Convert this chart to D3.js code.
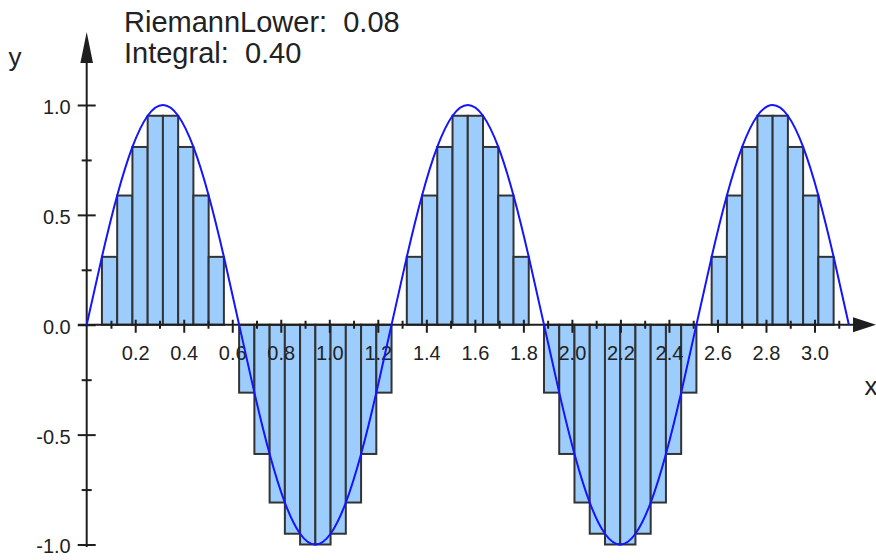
<!DOCTYPE html>
<html><head><meta charset="utf-8">
<script src="https://cdn.jsdelivr.net/npm/d3@7"></script>
<style>
body{margin:0;background:#fff}
svg{display:block}
text{font-family:"Liberation Sans",Arial,sans-serif}
</style>
</head><body>
<svg id="c" width="876" height="560"></svg>
<script>
// Partition edges of [0, pi] (50 subintervals)
const xEdges = [0,0.0628,0.1257,0.1885,0.2513,0.3142,0.3770,0.4398,0.5027,0.5655,
  0.6283,0.6912,0.7540,0.8168,0.8796,0.9425,1.0053,1.0681,1.1310,1.1938,
  1.2566,1.3195,1.3823,1.4451,1.5080,1.5708,1.6336,1.6965,1.7593,1.8221,
  1.8850,1.9478,2.0106,2.0735,2.1363,2.1991,2.2619,2.3248,2.3876,2.4504,
  2.5133,2.5761,2.6389,2.7018,2.7646,2.8274,2.8903,2.9531,3.0159,3.0788,3.1416];
// Curve values at the edges
const curveY = [0,0.309,0.588,0.809,0.951,1,0.951,0.809,0.588,0.309,
  0,-0.309,-0.588,-0.809,-0.951,-1,-0.951,-0.809,-0.588,-0.309,
  0,0.309,0.588,0.809,0.951,1,0.951,0.809,0.588,0.309,
  0,-0.309,-0.588,-0.809,-0.951,-1,-0.951,-0.809,-0.588,-0.309,
  0,0.309,0.588,0.809,0.951,1,0.951,0.809,0.588,0.309,0];
// Lower Riemann bar heights
const barHeights = [0,0.309,0.588,0.809,0.951,0.951,0.809,0.588,0.309,0,
  -0.309,-0.588,-0.809,-0.951,-1,-1,-0.951,-0.809,-0.588,-0.309,
  0,0.309,0.588,0.809,0.951,0.951,0.809,0.588,0.309,0,
  -0.309,-0.588,-0.809,-0.951,-1,-1,-0.951,-0.809,-0.588,-0.309,
  0,0.309,0.588,0.809,0.951,0.951,0.809,0.588,0.309,0];
const xMajorTicks = [0.2,0.4,0.6,0.8,1.0,1.2,1.4,1.6,1.8,2.0,2.2,2.4,2.6,2.8,3.0];
const xTickLabels = ["0.2","0.4","0.6","0.8","1.0","1.2","1.4","1.6","1.8","2.0","2.2","2.4","2.6","2.8","3.0"];
const xMinorTicks = [0.1,0.3,0.5,0.7,0.9,1.1,1.3,1.5,1.7,1.9,2.1,2.3,2.5,2.7,2.9,3.1];
const yMajorTicks = [-1,-0.5,0,0.5,1];
const yTickLabels = ["-1.0","-0.5","0.0","0.5","1.0"];
const yMinorTicks = [-0.75,-0.25,0.25,0.75];
const titleLines = ["RiemannLower:  0.08","Integral:  0.40"];

const svg = d3.select("#c");
const x = d3.scaleLinear().domain([0,3]).range([86.7,814.5]);
const y = d3.scaleLinear().domain([-1,1]).range([544.5,105]);
const y0 = y(0);
const axisColor = "#1e1e1e";

// bars
svg.append("g").selectAll("rect").data(barHeights).join("rect")
  .attr("x",(d,i)=>x(xEdges[i]))
  .attr("width",(d,i)=>x(xEdges[i+1])-x(xEdges[i]))
  .attr("y",d=>y(Math.max(0,d)))
  .attr("height",d=>Math.abs(y(d)-y0))
  .attr("fill","#9ccdfd")
  .attr("stroke","#333")
  .attr("stroke-width",2);

// x axis
svg.append("line").attr("x1",78).attr("x2",858).attr("y1",y0).attr("y2",y0)
  .attr("stroke",axisColor).attr("stroke-width",2);
svg.append("path").attr("d",`M876,${y0} L853,${y0-7.5} L853,${y0+7.5} Z`).attr("fill",axisColor);
const gx = svg.append("g").attr("transform",`translate(0,${y0})`)
  .call(d3.axisBottom(x).tickValues(xMajorTicks).tickFormat((d,i)=>xTickLabels[i]).tickSizeOuter(0));
gx.select(".domain").remove();
gx.selectAll(".tick line").attr("y1",-5).attr("y2",8).attr("stroke",axisColor).attr("stroke-width",2);
gx.selectAll(".tick text").attr("y",21.5).attr("font-size",20).attr("fill","#222")
  .attr("font-family","'Liberation Sans',Arial,sans-serif");
const gxm = svg.append("g").attr("transform",`translate(0,${y0})`)
  .call(d3.axisBottom(x).tickValues(xMinorTicks).tickFormat("").tickSizeOuter(0));
gxm.select(".domain").remove();
gxm.selectAll(".tick line").attr("y1",-4).attr("y2",4).attr("stroke",axisColor).attr("stroke-width",2);

// y axis
svg.append("line").attr("x1",x(0)).attr("x2",x(0)).attr("y1",547).attr("y2",50)
  .attr("stroke",axisColor).attr("stroke-width",2);
svg.append("path").attr("d",`M${x(0)},32 L${x(0)-6.3},63 L${x(0)+6.3},63 Z`).attr("fill",axisColor);
const gy = svg.append("g").attr("transform",`translate(${x(0)},0)`)
  .call(d3.axisLeft(y).tickValues(yMajorTicks).tickFormat((d,i)=>yTickLabels[i]).tickSizeOuter(0));
gy.select(".domain").remove();
gy.selectAll(".tick line").attr("x1",-9).attr("x2",9).attr("stroke",axisColor).attr("stroke-width",2);
gy.selectAll(".tick text").attr("x",-16).attr("dy","0.42em").attr("font-size",20).attr("fill","#222")
  .attr("font-family","'Liberation Sans',Arial,sans-serif");
const gym = svg.append("g").attr("transform",`translate(${x(0)},0)`)
  .call(d3.axisLeft(y).tickValues(yMinorTicks).tickFormat("").tickSizeOuter(0));
gym.select(".domain").remove();
gym.selectAll(".tick line").attr("x1",-5).attr("x2",5).attr("stroke",axisColor).attr("stroke-width",2);

// curve
const line = d3.line().x((d,i)=>x(xEdges[i])).y(d=>y(d)).curve(d3.curveNatural);
svg.append("path").datum(curveY).attr("d",line).attr("fill","none")
  .attr("stroke","#1414ff").attr("stroke-width",2);

// axis names
svg.append("text").attr("x",871).attr("y",395).attr("text-anchor","middle")
  .attr("font-size",26).attr("fill","#222").text("x");
svg.append("text").attr("x",15).attr("y",66).attr("text-anchor","middle")
  .attr("font-size",26).attr("fill","#222").text("y");

// title
svg.append("g").selectAll("text").data(titleLines).join("text")
  .attr("x",124).attr("y",(d,i)=>31.5+i*31.5)
  .attr("font-size",29).attr("fill","#222").style("white-space","pre")
  .text(d=>d);
</script>
</body></html>
